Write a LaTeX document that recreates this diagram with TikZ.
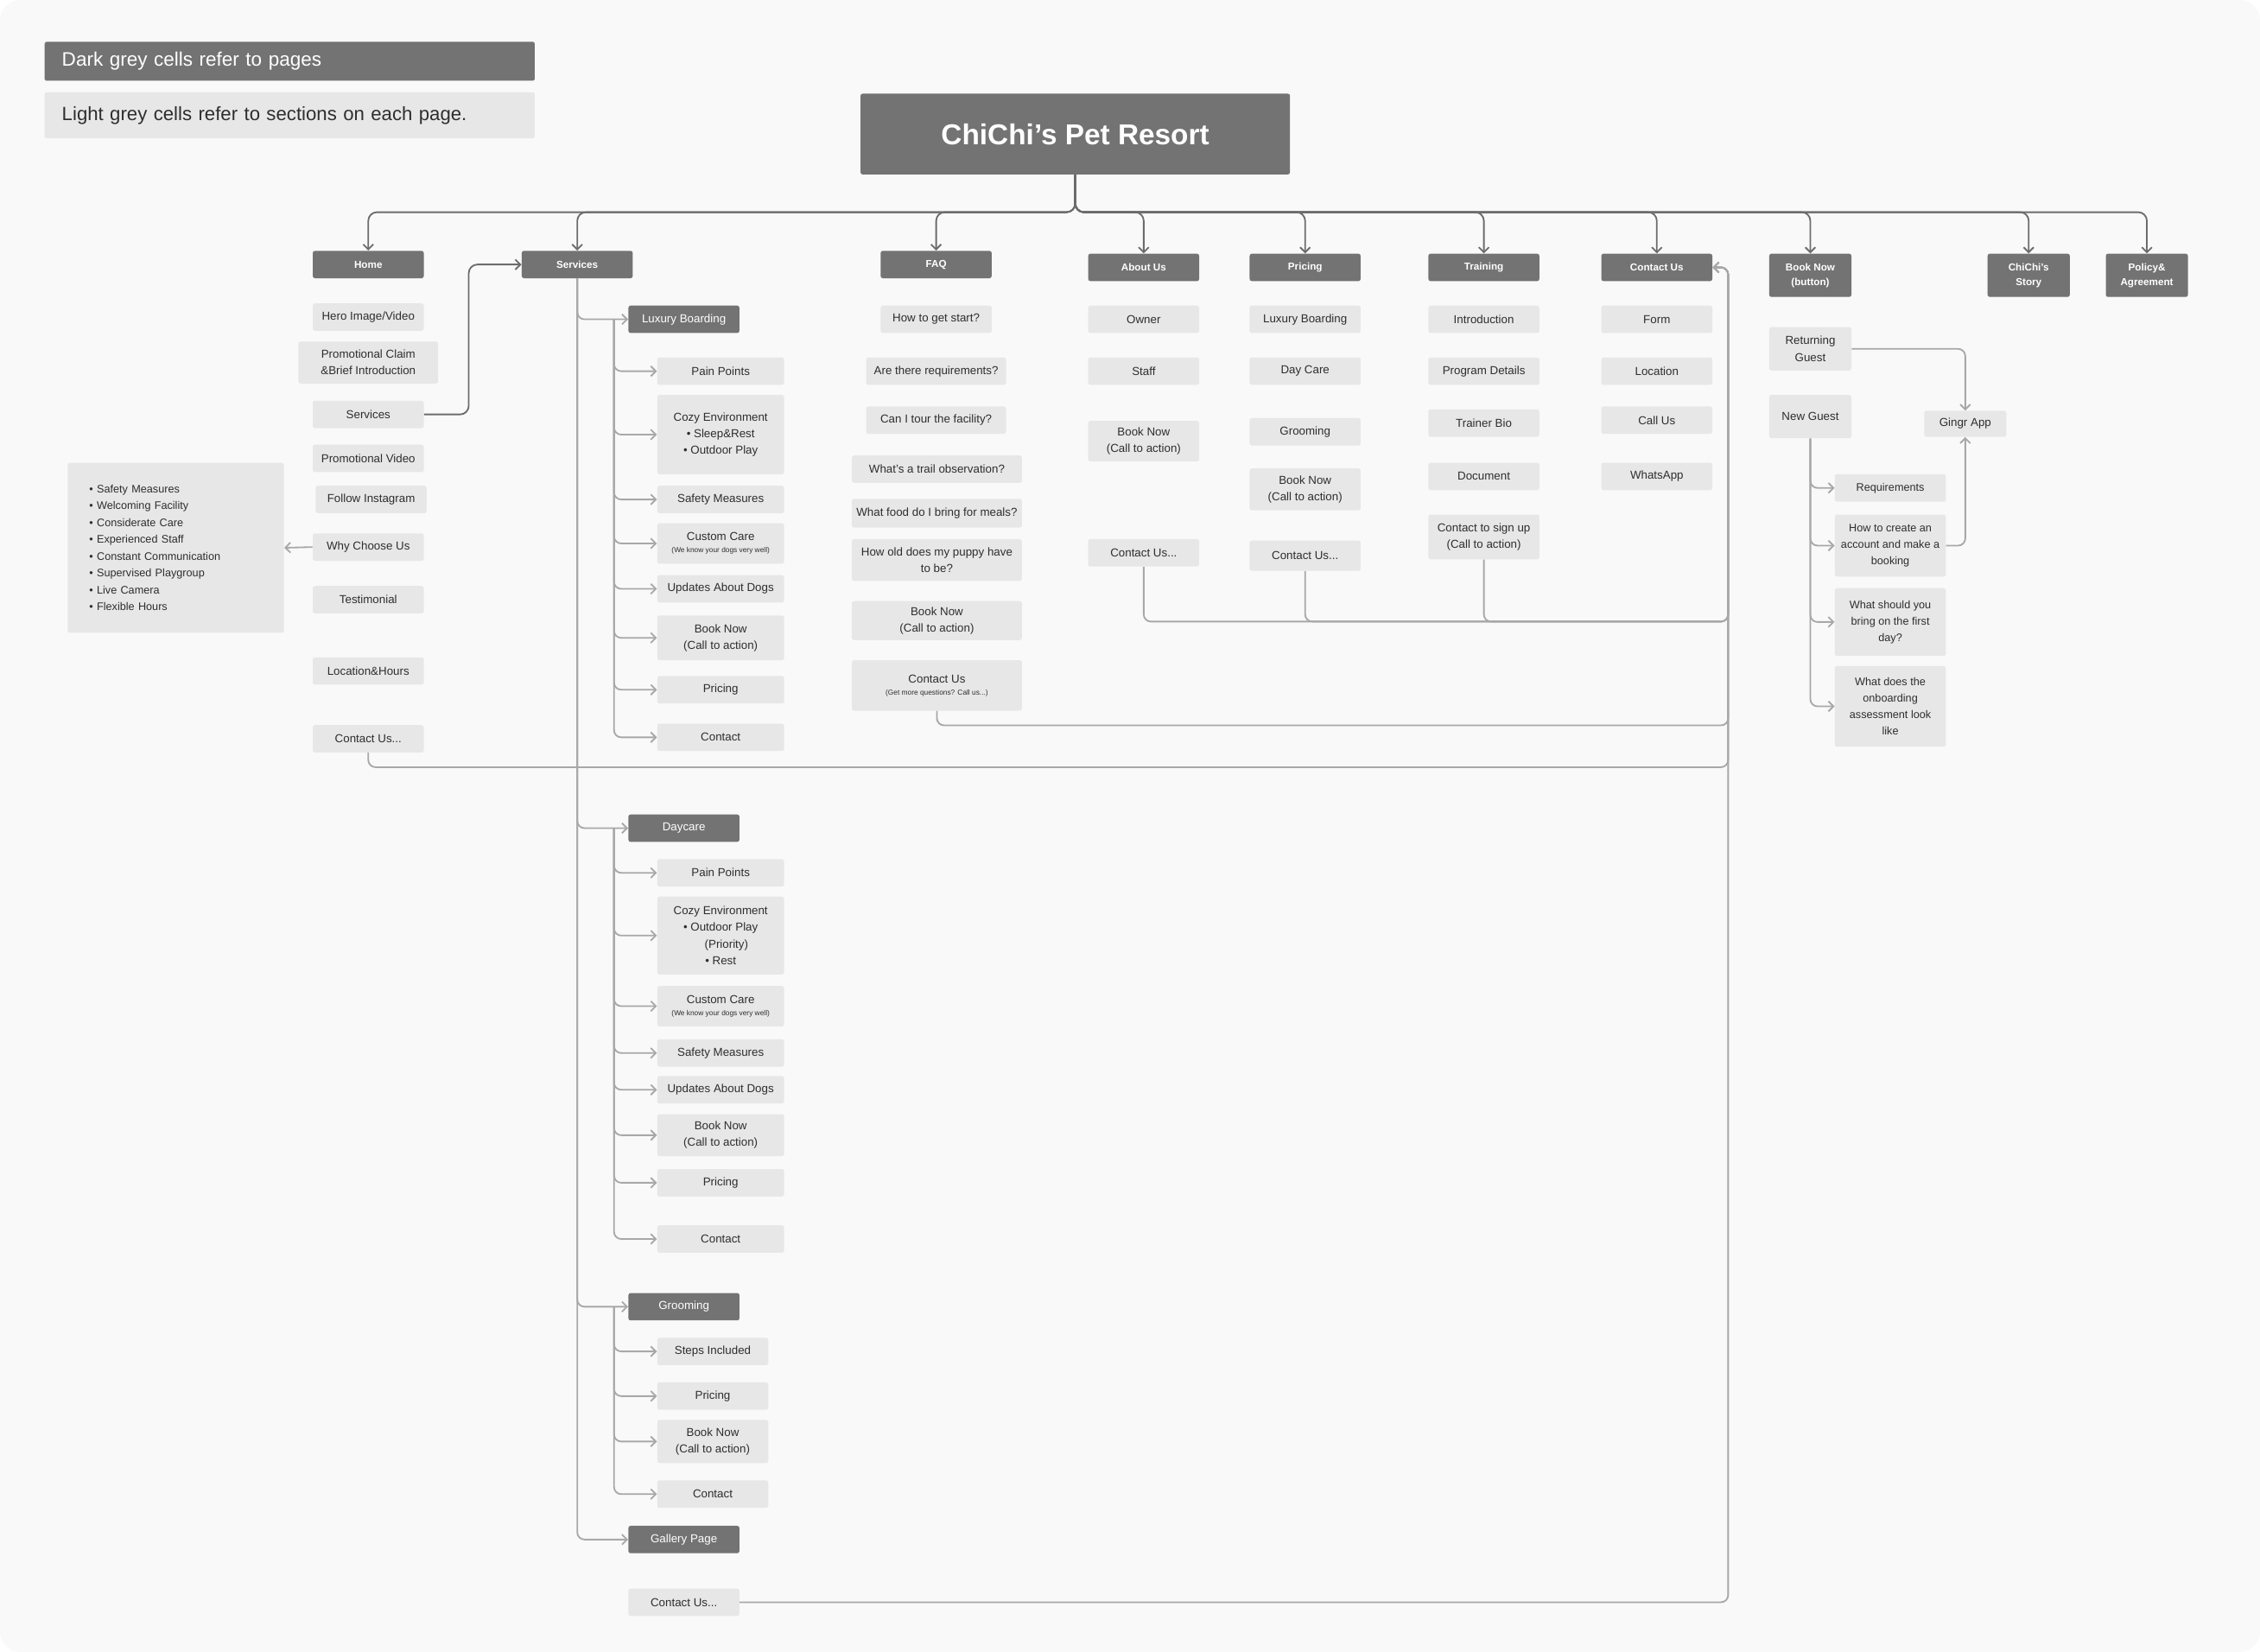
\documentclass[tikz,border=0pt]{standalone}
\usepackage{fontspec}
\setmainfont{Liberation Sans}
\usetikzlibrary{arrows.meta}
\definecolor{bgfill}{HTML}{F9F9F9}
\definecolor{pagegrey}{HTML}{737373}
\definecolor{cellgrey}{HTML}{E7E7E7}
\definecolor{ink}{HTML}{2E2E2E}
\definecolor{busgrey}{HTML}{6C6C6C}
\definecolor{feedgrey}{HTML}{A8A8A8}
\newcommand{\notefont}{\fontsize{5}{6}\selectfont}
\begin{document}
\begin{tikzpicture}[x=1pt, y=-1pt,
    >={Straight Barb[length=3.5pt,width=7pt]},
    page/.style={fill=pagegrey, text=white, rounded corners=1.5pt, inner sep=1pt,
      minimum width=77pt, minimum height=19pt, align=center,
      font=\bfseries\fontsize{7}{10}\selectfont},
    subpage/.style={page, font=\fontsize{8}{10}\selectfont},
    cell/.style={fill=cellgrey, text=ink, rounded corners=1.5pt, inner sep=1pt,
      minimum width=77pt, minimum height=19pt, align=center,
      font=\fontsize{8}{11.5}\selectfont},
    wide/.style={minimum width=88pt},
    bus/.style={draw=busgrey, line width=1.1pt, rounded corners=6pt},
    feed/.style={draw=feedgrey, line width=1.1pt, rounded corners=5pt},
  ]
  \useasboundingbox (0,0) rectangle (1568,1146);
  \fill[white] (0,0) rectangle (1568,1146);
  \fill[bgfill, rounded corners=14pt] (0,0) rectangle (1568,1146);

  % legend
  \node[fill=pagegrey, text=white, rounded corners=1pt, inner sep=0pt, minimum width=340pt, minimum height=27pt,
    text width=316pt, align=left, font=\fontsize{13.5}{16}\selectfont] (legDark) at (201,42.5) {Dark grey cells refer to pages};
  \node[fill=cellgrey, text=ink, rounded corners=1pt, inner sep=0pt, minimum width=340pt, minimum height=32pt,
    text width=316pt, align=left, font=\fontsize{13.3}{16}\selectfont] (legLight) at (201,80) {Light grey cells refer to sections on each page.};

  \node[page, minimum width=298pt, minimum height=56pt, font=\bfseries\fontsize{20}{24}\selectfont] (title) at (746,93) {ChiChi’s Pet Resort};

  % pages
  \node[page] (home) at (255.5,183.5) {Home};
  \node[page] (srv) at (400.5,183.5) {Services};
  \node[page] (faq) at (649.5,183.5) {FAQ};
  \node[page] (about) at (793.5,185.5) {About Us};
  \node[page] (price) at (905.5,185.5) {Pricing};
  \node[page] (train) at (1029.5,185.5) {Training};
  \node[page] (cUs) at (1149.5,185.5) {Contact Us};
  \node[page, minimum width=57pt, minimum height=30pt] (book) at (1256,191) {Book Now\\(button)};
  \node[page, minimum width=57pt, minimum height=30pt] (story) at (1407.5,191) {ChiChi’s\\Story};
  \node[page, minimum width=57pt, minimum height=30pt] (policy) at (1489.5,191) {Policy\&\\Agreement};

  \foreach \pg in {home,srv,faq,about,price,train,cUs,book,story,policy}
    \draw[->,bus] (title.south) -- ++(0,26) -| (\pg.north);

  % home
  \node[cell] (hHero) at (255.5,220) {Hero Image/Video};
  \node[cell, minimum width=97pt, minimum height=29pt] (hPromo) at (255.5,251.5) {Promotional Claim\\\&Brief Introduction};
  \node[cell] (hSrv) at (255.5,287.5) {Services};
  \node[cell] (hVid) at (255.5,318) {Promotional Video};
  \node[cell] (hInsta) at (257.5,346.5) {Follow Instagram};
  \node[cell] (hWhy) at (255.5,379.5) {Why Choose Us};
  \node[cell] (hTesti) at (255.5,416) {Testimonial};
  \node[cell] (hLoc) at (255.5,465.5) {Location\&Hours};
  \node[cell] (hCont) at (255.5,512.5) {Contact Us...};
  \node[cell, minimum width=150pt, minimum height=118pt, text width=120pt, align=left,
    font=\fontsize{7.6}{11.7}\selectfont] (whyList) at (122,380)
    {\textbullet\ Safety Measures\\\textbullet\ Welcoming Facility\\\textbullet\ Considerate Care\\
     \textbullet\ Experienced Staff\\\textbullet\ Constant Communication\\\textbullet\ Supervised Playgroup\\
     \textbullet\ Live Camera\\\textbullet\ Flexible Hours};
  \draw[->,feed] (hWhy.west) -- (whyList.east);
  \draw[->,bus] (hSrv.east) -- ++(31,0) |- (srv.west);

  % services
  \node[subpage] (lux) at (474.5,221.5) {Luxury Boarding};
  \node[cell, wide] (l1) at (500,257.5) {Pain Points};
  \node[cell, wide, minimum height=55pt] (l2) at (500,301.5) {Cozy Environment\\\textbullet\ Sleep\&Rest\\\textbullet\ Outdoor Play};
  \node[cell, wide] (l3) at (500,346.5) {Safety Measures};
  \node[cell, wide, minimum height=28pt] (l4) at (500,377) {Custom Care\\[-3pt]{\notefont (We know your dogs very well)}};
  \node[cell, wide] (l5) at (500,408.5) {Updates About Dogs};
  \node[cell, wide, minimum height=31pt] (l6) at (500,442.5) {Book Now\\(Call to action)};
  \node[cell, wide] (l7) at (500,478.5) {Pricing};
  \node[cell, wide] (l8) at (500,511.5) {Contact};

  \node[subpage] (day) at (474.5,574.5) {Daycare};
  \node[cell, wide] (d1) at (500,605.5) {Pain Points};
  \node[cell, wide, minimum height=54pt] (d2) at (500,649) {Cozy Environment\\\textbullet\ Outdoor Play\\\hspace*{8pt}(Priority)\\\textbullet\ Rest};
  \node[cell, wide, minimum height=28pt] (d3) at (500,698) {Custom Care\\[-3pt]{\notefont (We know your dogs very well)}};
  \node[cell, wide] (d4) at (500,730.5) {Safety Measures};
  \node[cell, wide] (d5) at (500,756) {Updates About Dogs};
  \node[cell, wide, minimum height=29pt] (d6) at (500,787.5) {Book Now\\(Call to action)};
  \node[cell, wide] (d7) at (500,820.5) {Pricing};
  \node[cell, wide] (d8) at (500,859.5) {Contact};

  \node[subpage] (groom) at (474.5,906.5) {Grooming};
  \node[cell] (g1) at (494.5,937.5) {Steps Included};
  \node[cell] (g2) at (494.5,968.5) {Pricing};
  \node[cell, minimum height=30pt] (g3) at (494.5,1000) {Book Now\\(Call to action)};
  \node[cell] (g4) at (494.5,1036.5) {Contact};

  \node[subpage] (gal) at (474.5,1068) {Gallery Page};
  \node[cell] (gCont) at (474.5,1111.5) {Contact Us...};

  \foreach \sp in {lux,day,groom,gal}
    \draw[->,feed] (srv.south) |- (\sp.west);
  \coordinate (luxT) at (426,221.5);
  \coordinate (dayT) at (426,574.5);
  \coordinate (groomT) at (426,906.5);
  \foreach \c in {l1,l2,l3,l4,l5,l6,l7,l8}
    \draw[->,feed] (luxT) |- (\c.west);
  \foreach \c in {d1,d2,d3,d4,d5,d6,d7,d8}
    \draw[->,feed] (dayT) |- (\c.west);
  \foreach \c in {g1,g2,g3,g4}
    \draw[->,feed] (groomT) |- (\c.west);

  % faq
  \node[cell] (f1) at (649.5,221.5) {How to get start?};
  \node[cell, minimum width=97pt] (f2) at (649.5,257.5) {Are there requirements?};
  \node[cell, minimum width=97pt] (f3) at (649.5,291.5) {Can I tour the facility?};
  \node[cell, minimum width=118pt] (f4) at (650,325.5) {What’s a trail observation?};
  \node[cell, minimum width=118pt, minimum height=20pt] (f5) at (650,356) {What food do I bring for meals?};
  \node[cell, minimum width=118pt, minimum height=29pt] (f6) at (650,388.5) {How old does my puppy have\\to be?};
  \node[cell, minimum width=118pt, minimum height=27pt] (f7) at (650,430.5) {Book Now\\(Call to action)};
  \node[cell, minimum width=118pt, minimum height=35pt] (fCont) at (650,475.5) {Contact Us\\[-3pt]{\notefont (Get more questions? Call us...)}};

  % about us
  \node[cell] (a1) at (793.5,221.5) {Owner};
  \node[cell] (a2) at (793.5,257.5) {Staff};
  \node[cell, minimum height=28pt] (a3) at (793.5,306) {Book Now\\(Call to action)};
  \node[cell] (aCont) at (793.5,383.5) {Contact Us...};

  % pricing
  \node[cell] (p1) at (905.5,221.5) {Luxury Boarding};
  \node[cell] (p2) at (905.5,257.5) {Day Care};
  \node[cell] (p3) at (905.5,299.5) {Grooming};
  \node[cell, minimum height=29pt] (p4) at (905.5,339.5) {Book Now\\(Call to action)};
  \node[cell, minimum height=21pt] (pCont) at (905.5,385.5) {Contact Us...};

  % training
  \node[cell] (t1) at (1029.5,221.5) {Introduction};
  \node[cell] (t2) at (1029.5,257.5) {Program Details};
  \node[cell] (t3) at (1029.5,293.5) {Trainer Bio};
  \node[cell] (t4) at (1029.5,330.5) {Document};
  \node[cell, minimum height=31pt] (tCont) at (1029.5,372.5) {Contact to sign up\\(Call to action)};

  % contact us
  \node[cell] (c1) at (1149.5,221.5) {Form};
  \node[cell] (c2) at (1149.5,257.5) {Location};
  \node[cell] (c3) at (1149.5,291.5) {Call Us};
  \node[cell] (c4) at (1149.5,330.5) {WhatsApp};

  % back to contact us
  \coordinate (rail) at (1199,185.5);
  \draw[->,feed] (aCont.south) -- ++(0,38) -| (rail) -- (cUs.east);
  \draw[->,feed] (pCont.south) -- ++(0,35) -| (rail) -- (cUs.east);
  \draw[->,feed] (tCont.south) -- ++(0,43) -| (rail) -- (cUs.east);
  \draw[->,feed] (fCont.south) -- ++(0,10) -| (rail) -- (cUs.east);
  \draw[->,feed] (hCont.south) -- ++(0,10) -| (rail) -- (cUs.east);
  \draw[->,feed] (gCont.east) -| (rail) -- (cUs.east);

  % book now
  \node[cell, minimum width=57pt, minimum height=30pt] (retG) at (1256,242) {Returning\\Guest};
  \node[cell, minimum width=57pt, minimum height=30pt] (newG) at (1256,289) {New Guest};
  \node[cell, minimum width=57pt, minimum height=18pt] (gingr) at (1363.5,294) {Gingr App};
  \node[cell, font=\fontsize{7.6}{11.5}\selectfont] (n1) at (1311.5,338.5) {Requirements};
  \node[cell, minimum height=43pt, font=\fontsize{7.6}{11.5}\selectfont] (n2) at (1311.5,378.5) {How to create an\\account and make a\\booking};
  \node[cell, minimum height=47pt, font=\fontsize{7.6}{11.5}\selectfont] (n3) at (1311.5,431.5) {What should you\\bring on the first\\day?};
  \node[cell, minimum height=56pt, font=\fontsize{7.6}{11.5}\selectfont] (n4) at (1311.5,490) {What does the\\onboarding\\assessment look\\like};
  \foreach \c in {n1,n2,n3,n4}
    \draw[->,feed] (newG.south) |- (\c.west);
  \draw[->,feed] (retG.east) -| (gingr.north);
  \draw[->,feed] (n2.east) -| (gingr.south);
\end{tikzpicture}
\end{document}
